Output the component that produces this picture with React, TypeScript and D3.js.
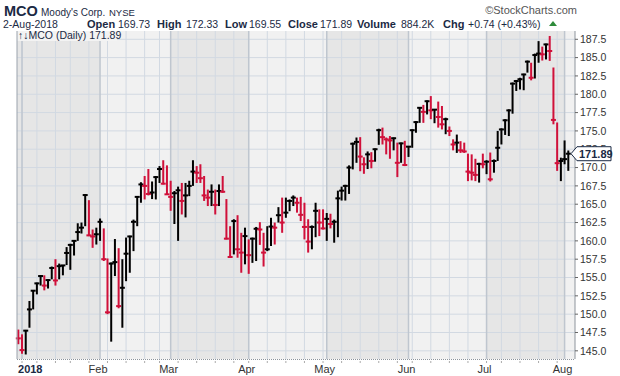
import React from "react";
import * as d3 from "d3";

// ---- categories (trading calendar) ----
const FIRST_DAY = "2017-12-29";
const LAST_DAY = "2018-08-02";
const HOLIDAYS = ["2018-01-01", "2018-01-15", "2018-02-19", "2018-03-30", "2018-05-28", "2018-07-04"];
const PRIOR_CLOSE = 147.5;

// ---- series values (daily high / low / close) ----
const HIGHS = [
  147.9, 147.25, 147.85, 151.8, 153.25, 154.3, 155.3, 155.3, 154.75, 156.5,
  157.5, 156.9, 156.7, 159.15, 159.6, 160.05, 162.4, 162.5, 166.35, 165.55,
  161.55, 161.8, 163.05, 161.7, 157.6, 157.05, 160.25, 159.0, 157.5, 160.45,
  160.7, 162.9, 166.1, 168.0, 168.85, 169.8, 168.1, 168.85, 170.2, 171.0,
  170.3, 168.2, 166.8, 167.4, 167.9, 167.9, 168.2, 171.0, 170.2, 170.45,
  168.85, 167.0, 167.7, 167.0, 167.7, 168.85, 165.7, 162.0, 162.95, 163.5,
  161.1, 161.8, 160.2, 160.45, 161.9, 162.55, 161.1, 162.0, 163.15, 162.5,
  164.6, 165.9, 165.9, 165.65, 166.2, 165.9, 166.0, 165.2, 162.95, 162.1,
  165.2, 164.3, 164.3, 163.8, 163.7, 162.9, 166.85, 167.4, 167.65, 170.3,
  173.4, 174.1, 174.15, 171.4, 172.2, 172.1, 172.6, 175.3, 175.45, 174.1,
  174.3, 174.1, 173.4, 173.4, 173.65, 172.95, 175.2, 176.35, 178.25, 178.55,
  179.15, 179.75, 177.95, 179.0, 178.4, 176.8, 175.6, 173.85, 174.5, 173.6,
  173.4, 171.9, 171.8, 171.2, 170.65, 171.9, 171.0, 172.05, 171.1, 175.0,
  175.35, 176.6, 177.95, 181.6, 181.95, 182.25, 182.8, 184.6, 184.3, 185.55,
  187.25, 186.5, 186.9, 187.95, 183.65, 176.15, 171.35, 173.7, 172.33,
];
const LOWS = [
  145.9, 144.6, 144.5, 148.15, 150.65, 152.7, 153.9, 153.25, 153.5, 154.75,
  153.9, 154.75, 155.3, 156.7, 156.05, 158.0, 160.0, 161.0, 162.0, 160.65,
  159.05, 159.5, 160.0, 157.25, 150.0, 146.25, 155.2, 150.8, 148.15, 154.5,
  155.65, 158.6, 162.0, 165.2, 165.65, 166.2, 165.7, 165.65, 167.9, 167.7,
  166.35, 164.1, 162.3, 160.0, 163.6, 163.2, 166.1, 167.5, 167.9, 167.9,
  165.45, 164.75, 164.75, 163.6, 164.75, 166.55, 160.2, 157.8, 158.15, 157.7,
  155.65, 156.8, 155.5, 157.0, 157.25, 159.45, 156.5, 158.6, 159.3, 159.5,
  162.5, 161.1, 163.15, 164.05, 164.75, 163.85, 162.7, 160.2, 158.4, 158.85,
  160.5, 160.65, 161.55, 160.0, 161.7, 159.75, 160.5, 165.5, 165.5, 166.4,
  169.75, 170.65, 169.5, 169.15, 169.8, 169.9, 170.8, 173.1, 173.15, 171.8,
  171.2, 172.35, 168.7, 170.65, 170.2, 171.45, 172.7, 174.75, 176.1, 176.1,
  177.25, 176.6, 176.05, 175.45, 175.2, 174.55, 174.3, 172.35, 172.0, 172.0,
  172.0, 168.15, 168.25, 168.15, 167.95, 169.9, 169.1, 168.1, 169.3, 170.9,
  173.15, 174.45, 174.3, 177.35, 180.45, 180.65, 180.55, 182.95, 181.9, 182.15,
  184.3, 184.6, 184.75, 184.55, 175.9, 169.55, 168.15, 170.45, 169.55,
];
const CLOSES = [
  146.7, 145.1, 147.75, 150.65, 153.2, 154.2, 155.2, 153.9, 154.65, 156.3,
  154.6, 156.55, 156.65, 158.35, 159.45, 160.0, 161.2, 161.8, 166.25, 160.75,
  160.6, 160.9, 162.6, 157.5, 150.25, 156.9, 157.1, 151.1, 153.6, 158.25,
  160.6, 162.6, 166.0, 167.7, 167.5, 166.4, 166.6, 168.7, 169.8, 167.8,
  166.35, 166.0, 166.5, 166.9, 165.45, 166.2, 167.5, 169.45, 169.3, 168.55,
  166.2, 165.9, 166.7, 164.9, 166.8, 166.7, 160.3, 157.8, 162.7, 158.85,
  158.4, 160.65, 158.05, 160.3, 161.65, 161.55, 158.4, 158.85, 161.95, 161.8,
  163.5, 162.5, 163.85, 165.45, 165.9, 165.2, 163.55, 161.9, 159.9, 161.9,
  164.1, 162.5, 161.7, 163.0, 162.3, 162.6, 165.8, 166.85, 167.5, 170.0,
  173.25, 173.5, 171.5, 170.45, 171.8, 170.9, 172.5, 175.1, 174.15, 173.85,
  173.7, 174.0, 170.65, 173.3, 170.35, 172.85, 175.1, 176.2, 178.15, 177.6,
  179.05, 177.8, 177.9, 176.9, 175.9, 176.6, 175.0, 173.15, 173.4, 172.35,
  172.2, 169.45, 169.3, 169.0, 170.5, 170.45, 170.8, 168.4, 170.9, 172.7,
  175.2, 176.45, 177.8, 181.45, 181.8, 182.05, 182.7, 184.45, 182.25, 185.35,
  185.55, 185.45, 186.8, 185.9, 176.5, 170.6, 170.9, 171.15, 171.89,
];

// ---- tick labels ----
const Y_TICKS = [145, 147.5, 150, 152.5, 155, 157.5, 160, 162.5, 165, 167.5, 170, 172.5, 175, 177.5, 180, 182.5, 185, 187.5];
const LAST_CLOSE_LABEL = "171.89";

const FONT = "'Liberation Sans', Arial, Helvetica, sans-serif";
const RED = "#d0103a";
const BLACK = "#000000";
const NAVY = "#1b2a44";

const fmtKey = d3.timeFormat("%Y-%m-%d");
const parse = d3.timeParse("%Y-%m-%d");

function tradingDays(): Date[] {
  const out: Date[] = [];
  const days = d3.timeDay.range(parse(FIRST_DAY)!, d3.timeDay.offset(parse(LAST_DAY)!, 1));
  for (const d of days) {
    const wd = d.getDay();
    if (wd === 0 || wd === 6) continue;
    if (HOLIDAYS.includes(fmtKey(d))) continue;
    out.push(d);
  }
  return out;
}

export default function App() {
  const W = 620, H = 376;
  const left = 17, right = 575, top = 31, bottom = 359;
  const dates = tradingDays();
  const keys = dates.map((d) => fmtKey(d));
  const x = d3.scalePoint<string>().domain(keys).range([18.3, 568.3]);
  const y = d3.scaleLinear().domain([144.02, 188.63]).range([358, 31]);

  const monthStarts: number[] = [];
  const weekStarts: number[] = [];
  dates.forEach((d, i) => {
    if (i === 0) return;
    const p = dates[i - 1];
    if (d.getMonth() !== p.getMonth()) monthStarts.push(i);
    if (d.getDay() < p.getDay()) weekStarts.push(i);
  });

  const bands = monthStarts.map((s, k) => {
    const x0 = k === 0 ? left : (x(keys[s]) as number);
    const x1 = k + 1 < monthStarts.length ? (x(keys[monthStarts[k + 1]]) as number) : right;
    const dark = dates[s].getMonth() % 2 === 0;
    return { x0, x1, dark };
  });

  const bars = keys.map((k, i) => {
    const prev = i === 0 ? PRIOR_CLOSE : CLOSES[i - 1];
    const color = CLOSES[i] >= prev ? BLACK : RED;
    return { cx: x(k) as number, h: HIGHS[i], l: LOWS[i], c: CLOSES[i], color };
  });

  const lastY = y(CLOSES[CLOSES.length - 1]);

  return (
    <svg width={W} height={H} style={{ position: "absolute", left: 0, top: 0, background: "#fff" }} fontFamily={FONT}>
      {/* header */}
      <text x={4} y={16} fontSize={14.5} fontWeight="bold" fill={NAVY}>MCO</text>
      <text x={41} y={16} fontSize={10} fill={NAVY}>Moody's Corp.</text>
      <text x={109} y={16} fontSize={9.5} fill={NAVY}>NYSE</text>
      <text x={577} y={14} fontSize={11} fill="#555" textAnchor="end">©StockCharts.com</text>

      <text x={3} y={28} fontSize={10.5} fill={NAVY}>2-Aug-2018</text>
      <text x={87} y={28} fontSize={11} fontWeight="bold" fill={NAVY}>Open</text>
      <text x={118} y={28} fontSize={10.5} fill={NAVY}>169.73</text>
      <text x={157} y={28} fontSize={11} fontWeight="bold" fill={NAVY}>High</text>
      <text x={186} y={28} fontSize={10.5} fill={NAVY}>172.33</text>
      <text x={225} y={28} fontSize={11} fontWeight="bold" fill={NAVY}>Low</text>
      <text x={249} y={28} fontSize={10.5} fill={NAVY}>169.55</text>
      <text x={288} y={28} fontSize={11} fontWeight="bold" fill={NAVY}>Close</text>
      <text x={320} y={28} fontSize={10.5} fill={NAVY}>171.89</text>
      <text x={357} y={28} fontSize={11} fontWeight="bold" fill={NAVY}>Volume</text>
      <text x={401} y={28} fontSize={10.5} fill={NAVY}>884.2K</text>
      <text x={443} y={28} fontSize={11} fontWeight="bold" fill={NAVY}>Chg</text>
      <text x={468} y={28} fontSize={10.5} fill={NAVY}>+0.74 (+0.43%)</text>
      <path d="M549,26 L557,26 L553,21 Z" fill="#2e8b3a" />

      {/* plot background */}
      <rect x={left} y={top} width={right - left} height={bottom - top} fill="#f1f1f1" />
      {bands.map((b, i) => (
        <rect key={"b" + i} x={b.x0} y={top} width={b.x1 - b.x0} height={bottom - top} fill={b.dark ? "#e6e6e6" : "#f1f1f1"} />
      ))}

      {/* grid */}
      {Y_TICKS.map((t) => (
        <line key={"h" + t} x1={left} x2={right} y1={y(t)} y2={y(t)} stroke="#d2d9e2" strokeWidth={1} />
      ))}
      {weekStarts.map((i) => (
        <line key={"w" + i} x1={x(keys[i])} x2={x(keys[i])} y1={top} y2={bottom} stroke="#d2d9e2" strokeWidth={1} />
      ))}
      {monthStarts.map((i) => (
        <line key={"m" + i} x1={x(keys[i])} x2={x(keys[i])} y1={top} y2={bottom} stroke="#bfc6cf" strokeWidth={1.5} />
      ))}

      {/* legend */}
      <rect x={left} y={top} width={100} height={10} fill="#f3f3f3" />
      <text x={18} y={39} fontSize={10.5} fill={NAVY}>↑↓MCO (Daily) 171.89</text>

      {/* bars */}
      {bars.map((b, i) => (
        <g key={"bar" + i} fill={b.color}>
          <rect x={b.cx - 1} y={y(b.h)} width={2} height={Math.max(1, y(b.l) - y(b.h))} />
          <rect x={b.cx - 2.5} y={y(b.c) - 1} width={5} height={2} />
        </g>
      ))}

      {/* frame */}
      <line x1={left} x2={left} y1={top} y2={bottom} stroke="#9aa2ac" strokeWidth={1} />
      <line x1={right} x2={right} y1={top} y2={bottom} stroke="#8d949c" strokeWidth={1} />
      <line x1={left} x2={right} y1={bottom + 0.5} y2={bottom + 0.5} stroke="#8d949c" strokeWidth={1} strokeDasharray="1,1" />

      {/* right axis */}
      {Y_TICKS.map((t) => (
        <g key={"yt" + t}>
          <line x1={right} x2={right + 3} y1={y(t)} y2={y(t)} stroke="#666" />
          <text x={right + 5} y={y(t) + 3.8} fontSize={10.5} fill="#333">{t.toFixed(1)}</text>
        </g>
      ))}

      {/* last price marker */}
      <path
        d={`M${right - 4},${lastY} L${right + 2},${lastY - 7} L${right + 36},${lastY - 7} L${right + 36},${lastY + 7} L${right + 2},${lastY + 7} Z`}
        fill="#fff"
        stroke={NAVY}
        strokeWidth={1}
      />
      <text x={right + 4} y={lastY + 4} fontSize={11} fontWeight="bold" fill={NAVY}>{LAST_CLOSE_LABEL}</text>

      {/* bottom axis */}
      {weekStarts.map((i) => (
        <line key={"bt" + i} x1={x(keys[i])} x2={x(keys[i])} y1={bottom + 2} y2={bottom + 4} stroke="#aaa" />
      ))}
      {monthStarts.map((i) => {
        const d = dates[i];
        const isYear = d.getMonth() === 0;
        const cx = x(keys[i]) as number;
        return (
          <text
            key={"ml" + i}
            x={isYear ? cx - 4 : cx - 2}
            y={373}
            fontSize={11}
            fontWeight={isYear ? "bold" : "normal"}
            fill={isYear ? NAVY : "#333"}
            textAnchor={isYear ? "start" : "middle"}
          >
            {isYear ? d3.timeFormat("%Y")(d) : d3.timeFormat("%b")(d)}
          </text>
        );
      })}
    </svg>
  );
}
